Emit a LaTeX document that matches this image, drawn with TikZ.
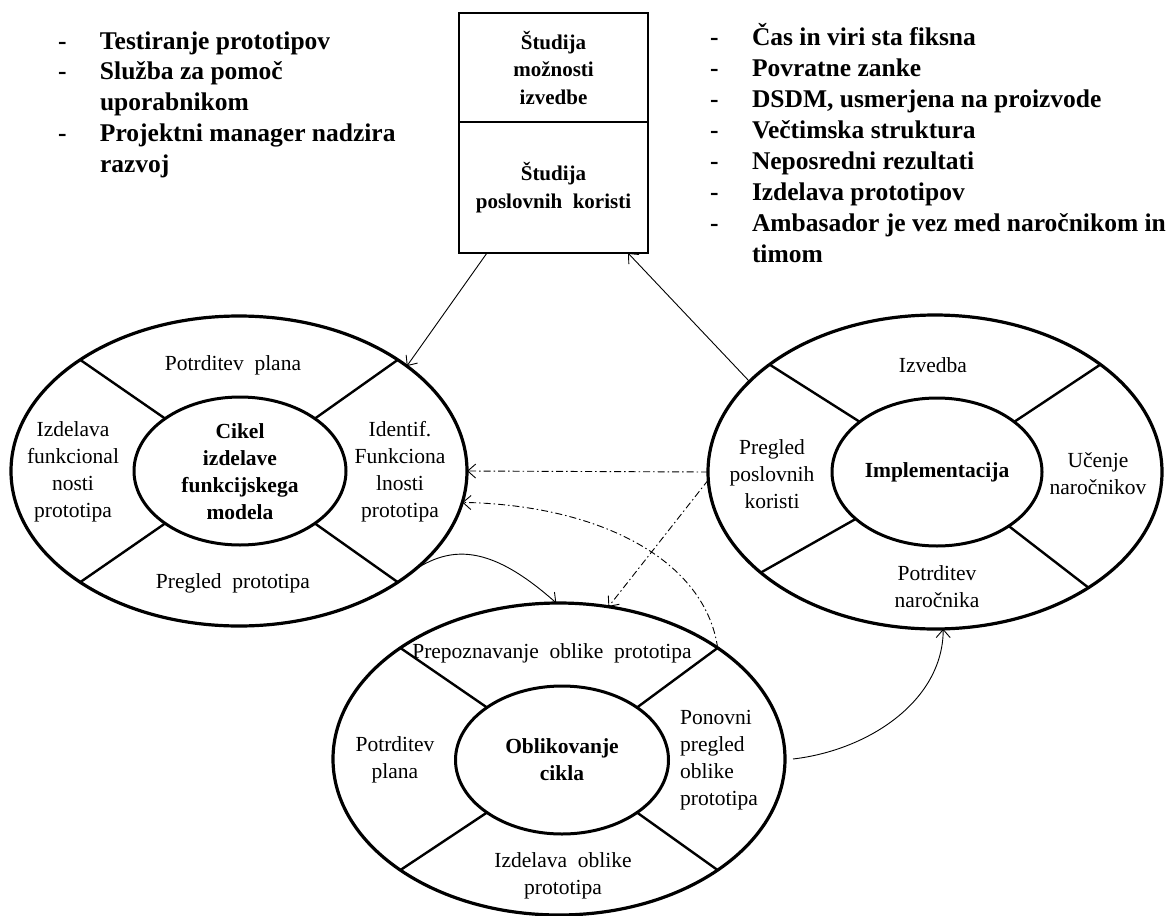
\documentclass[tikz,border=0pt]{standalone}
\usepackage{fontspec}
\setmainfont{Liberation Serif}
\usetikzlibrary{shapes.geometric,arrows.meta,calc}
\begin{document}
\begin{tikzpicture}[x=1pt,y=-1pt,
  outerell/.style={ellipse,draw,line width=3.2pt,inner sep=0pt,outer sep=0pt},
  innerell/.style={ellipse,draw,line width=3pt,inner sep=0pt,outer sep=0pt,minimum width=212pt,minimum height=148pt},
  lbl/.style={align=center,inner sep=0pt,font=\fontsize{21.5}{27}\selectfont},
  clbl/.style={lbl,font=\fontsize{21.5}{27}\selectfont\bfseries},
  boxpart/.style={draw,line width=1.3pt,inner sep=0pt,outer sep=0pt,minimum width=189pt,align=center,font=\fontsize{21}{27.5}\selectfont\bfseries},
  listtxt/.style={inner sep=0pt,outer sep=0pt,align=left},
  divider/.style={line width=2.4pt},
  conn/.style={line width=0.9pt,-{Straight Barb[length=8pt,width=14pt]}},
  dd/.style={conn,dash pattern=on 7pt off 3pt on 1.5pt off 3pt}]
\useasboundingbox (0,0) rectangle (1168,916);

% lists
\node[listtxt,anchor=base west] (listL) at (58,49) {\fontsize{25.5}{30.75}\selectfont\bfseries
\begin{tabular}[t]{@{}p{42pt}@{}l@{}}
-& Testiranje prototipov\\
-& Služba za pomoč\\
 & uporabnikom\\
-& Projektni manager nadzira\\
 & razvoj
\end{tabular}};
\node[listtxt,anchor=base west] (listR) at (710,45) {\fontsize{25.5}{31.1}\selectfont\bfseries
\begin{tabular}[t]{@{}p{42pt}@{}l@{}}
-& Čas in viri sta fiksna\\
-& Povratne zanke\\
-& DSDM, usmerjena na proizvode\\
-& Večtimska struktura\\
-& Neposredni rezultati\\
-& Izdelava prototipov\\
-& Ambasador je vez med naročnikom in\\
 & timom
\end{tabular}};

% box
\node[boxpart,minimum height=109pt] (B1) at (553.5,67.5) {Študija\\možnosti\\izvedbe};
\node[boxpart,minimum height=131pt] (B2) at (553.5,187.5) {Študija\\poslovnih\ \ koristi};

% left ellipse
\node[outerell,minimum width=456pt,minimum height=310pt] (L) at (239,471) {};
\node[innerell] (Li) at (240,471) {};
\foreach \a in {145,35,215,325} \draw[divider] (L.\a) -- (Li.\a);
\node[lbl] (L1) at (233,365) {Potrditev\ \ plana};
\node[lbl] (L2) at (73,472) {Izdelava\\funkcional\\nosti\\prototipa};
\node[lbl] (L3) at (400,472) {Identif.\\Funkciona\\lnosti\\prototipa};
\node[lbl] (L4) at (233,583) {Pregled\ \ prototipa};
\node[clbl] (Lc) at (240,472) {Cikel\\izdelave\\funkcijskega\\modela};

% right ellipse
\node[outerell,minimum width=454pt,minimum height=314pt] (R) at (935,472) {};
\node[innerell,minimum width=210pt] (Ri) at (937,472) {};
\foreach \a in {147,33,210,323} \draw[divider] (R.\a) -- (Ri.\a);
\node[lbl] (R1) at (933,365) {Izvedba};
\node[lbl] (R2) at (772,474) {Pregled\\poslovnih\\koristi};
\node[lbl] (R3) at (1098,474) {Učenje\\naročnikov};
\node[lbl] (R4) at (937,587) {Potrditev\\naročnika};
\node[clbl] (Rc) at (937,472) {Implementacija};

% bottom ellipse
\node[outerell,minimum width=452pt,minimum height=312pt] (B) at (559,759) {};
\node[innerell,minimum width=213pt] (Bi) at (562,760) {};
\foreach \a in {145,35,215,325} \draw[divider] (B.\a) -- (Bi.\a);
\node[lbl] (B1t) at (552,653) {Prepoznavanje\ \ oblike\ \ prototipa};
\node[lbl] (B2t) at (395,760) {Potrditev\\plana};
\node[lbl,align=left,anchor=west] (B3t) at (680,760) {Ponovni\\pregled\\oblike\\prototipa};
\node[lbl] (B4t) at (563,876) {Izdelava\ \ oblike\\prototipa};
\node[clbl] (Bc) at (562,760) {Oblikovanje\\cikla};

% connectors
\draw[conn] ($(B2.south west)!0.148!(B2.south east)$) -- (L.32);
\draw[conn] (R.154) -- ($(B2.south west)!0.894!(B2.south east)$);
\draw[dd] (R.180) -- (L.0);
\draw[dd] (R.182) -- (B.72);
\draw[dd] (B.35) .. controls (705,560) and (600,505) .. (L.-8);
\draw[conn] (L.325) .. controls (440,548) and (480,535) .. (B.91);
\draw[conn] ([xshift=8pt]B.0) .. controls (870,750) and (943,700) .. (R.-87);
\end{tikzpicture}
\end{document}
